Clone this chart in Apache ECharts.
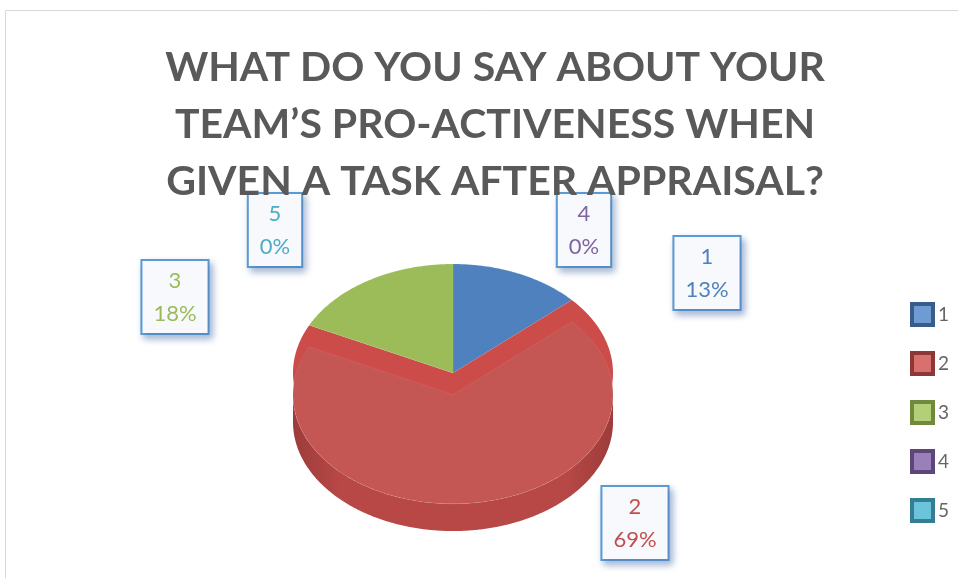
<!DOCTYPE html>
<html><head><meta charset="utf-8">
<script src="https://cdn.jsdelivr.net/npm/echarts@6/dist/echarts.min.js"></script>
<style>html,body{margin:0;padding:0;background:#fff}#c{width:958px;height:578px}</style>
</head><body><div id="c"></div>
<script>
// ---- data ----
const categories = ['1', '2', '3', '4', '5'];
const counts = [6, 31, 8, 0, 0];
const titleLines = ['WHAT DO YOU SAY ABOUT YOUR', 'TEAM\u2019S PRO-ACTIVENESS WHEN', 'GIVEN A TASK AFTER APPRAISAL?'];

// ---- styles / layout ----
const colors = ['#4f81bd', '#c0504d', '#9bbb59', '#8064a2', '#4bacc6'];
const topColors = ['#5081bf', '#c45654', '#9cbc5a', '#8064a2', '#4bacc6'];
const bandColors = ['#4f81bd', '#cc4c4a', '#9bbb59', '#8064a2', '#4bacc6'];
const sideMid = ['#4f81bd', '#b84846', '#9bbb59', '#8064a2', '#4bacc6'];
const sideEdge = ['#385d8a', '#9c3c3a', '#71893f', '#5c4776', '#357d91'];
const darkColors = ['#385d8a', '#8c3836', '#71893f', '#5c4776', '#357d91'];
const lightColors = ['#6f9bd3', '#d9706d', '#b3cf78', '#9a80bb', '#6cc4dc'];
const explode = [0, 0.2, 0, 0, 0];
const depth = 0.25;
const labelPos = [[707, 273], [635, 523], [175, 297], [584, 230], [275, 230]];

const total = counts.reduce((a, b) => a + b, 0);
const starts = [];
let acc = 0;
counts.forEach(v => { starts.push(acc / total); acc += v; });

function makeRender(i) {
  return function (params, api) {
    const a0 = starts[i] * 2 * Math.PI;
    const a1 = (starts[i] + counts[i] / total) * 2 * Math.PI;
    const children = [];
    const pt = (th, off) => api.coord([Math.sin(th), Math.cos(th) + off]);
    const arc = (s, e, off) => {
      const n = Math.max(2, Math.ceil((e - s) / 0.01));
      const p = [];
      for (let k = 0; k <= n; k++) p.push(pt(s + (e - s) * k / n, off));
      return p;
    };
    if (a1 > a0) {
      const dy = -explode[i];
      if (explode[i] > 0) {
        children.push({ type: 'polygon', shape: { points: [api.coord([0, 0])].concat(arc(a0, a1, 0)) },
          style: { fill: bandColors[i] } });
      }
      const s0 = Math.max(a0, Math.PI / 2), s1 = Math.min(a1, 3 * Math.PI / 2);
      if (s1 > s0) {
        const p = arc(s0, s1, dy).concat(arc(s0, s1, dy - depth).reverse());
        children.push({ type: 'polygon', shape: { points: p },
          style: { fill: new echarts.graphic.LinearGradient(0, 0, 1, 0, [
            { offset: 0, color: sideEdge[i] }, { offset: 0.15, color: sideMid[i] },
            { offset: 0.85, color: sideMid[i] }, { offset: 1, color: sideEdge[i] }]) } });
      }
      children.push({ type: 'polygon', shape: { points: [api.coord([0, dy])].concat(arc(a0, a1, dy)) },
        style: { fill: topColors[i], stroke: 'rgba(255,255,255,0.08)', lineWidth: 1 } });
    }
    const pct = Math.round(counts[i] / total * 100) + '%';
    children.push({
      type: 'text', x: labelPos[i][0], y: labelPos[i][1], z2: 100,
      style: {
        text: categories[i] + '\n' + pct, fill: colors[i],
        font: '22px Lato', align: 'center', verticalAlign: 'middle', lineHeight: 33,
        backgroundColor: '#f7f9fd', borderColor: '#5b9bd5', borderWidth: 2, padding: [3, 11, 3, 11],
        shadowBlur: 7, shadowColor: 'rgba(70,110,170,0.45)', shadowOffsetX: 3, shadowOffsetY: 4
      }
    });
    return { type: 'group', children };
  };
}

const series = categories.map((c, i) => ({
  type: 'custom', name: c, coordinateSystem: 'cartesian2d',
  itemStyle: { color: colors[i] },
  data: [[0, 0]], renderItem: makeRender(i), silent: true, clip: false
}));

const chart = echarts.init(document.getElementById('c'), null, { renderer: 'canvas' });
chart.setOption({
  animation: false,
  backgroundColor: '#ffffff',
  title: {
    text: titleLines.join('\n'), left: 490, top: 34, textAlign: 'center',
    textStyle: { fontFamily: 'Lato', fontWeight: 'bold', fontSize: 41, lineHeight: 57, color: '#595959' }
  },
  grid: { left: 293, width: 320, top: 264, height: 218 },
  xAxis: { type: 'value', min: -1, max: 1, show: false },
  yAxis: { type: 'value', min: -1, max: 1, show: false },
  legend: {
    orient: 'vertical', left: 905, top: 297, itemWidth: 21, itemHeight: 21, itemGap: 24,
    icon: 'rect',
    textStyle: { fontFamily: 'Lato', fontSize: 19, color: '#666666' },
    data: categories.map((c, i) => ({ name: c, itemStyle: { color: lightColors[i], borderColor: darkColors[i], borderWidth: 4 } }))
  },
  graphic: [{ type: 'rect', shape: { x: 5.5, y: 10.5, width: 1000, height: 1000 }, style: { fill: 'none', stroke: '#d9d9d9', lineWidth: 1 }, silent: true }],
  series
});
</script></body></html>
